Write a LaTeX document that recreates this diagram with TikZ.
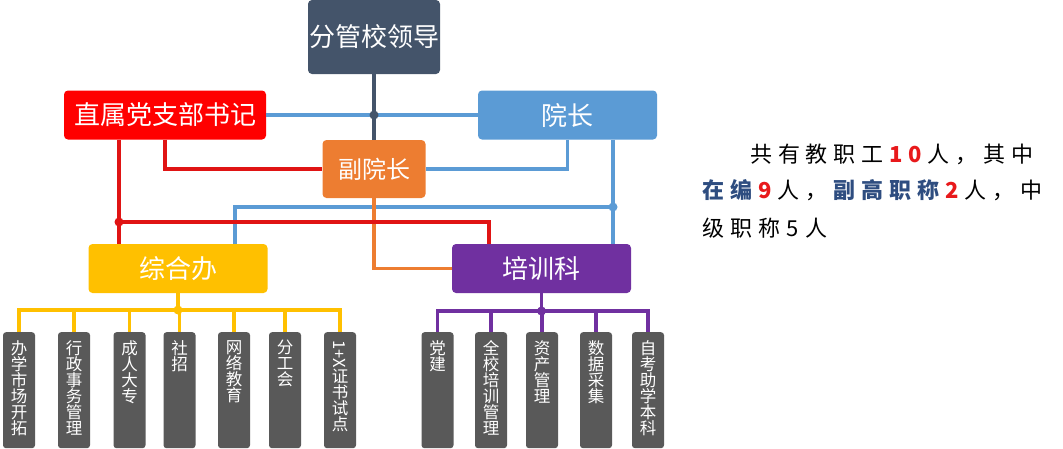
\documentclass[tikz,border=0pt]{standalone}
\usepackage{fontspec}
\setmainfont{Noto Sans CJK SC}
\usepackage{tikz}

\definecolor{slate}{HTML}{44546A}
\definecolor{partyred}{HTML}{FF0000}
\definecolor{linered}{HTML}{E01414}
\definecolor{deanblue}{HTML}{5B9BD5}
\definecolor{viceorange}{HTML}{ED7D31}
\definecolor{officegold}{HTML}{FFC000}
\definecolor{trainpurple}{HTML}{7030A0}
\definecolor{leafgray}{HTML}{595959}
\definecolor{notenavy}{HTML}{2E4D80}
\definecolor{notered}{HTML}{E8191B}

\newcommand{\vstack}[1]{\parbox[c][100pt][t]{18pt}{\centering #1}}
\newcommand{\hl}[1]{\textcolor{notenavy}{\textbf{#1}}}
\newcommand{\num}[1]{\textcolor{notered}{\textbf{#1}}}

\begin{document}
\begin{tikzpicture}[x=1pt,y=-1pt,
    unit/.style={rectangle,rounded corners=4pt,text=white,inner sep=0pt,font=\fontsize{26}{30}\selectfont},
    leaf/.style={rectangle,rounded corners=3pt,fill=leafgray,text=white,anchor=north,minimum width=32pt,inner xsep=0pt,inner ysep=8pt,font=\fontsize{16.5}{16}\selectfont},
    wire/.style={line width=3.3pt},
    note/.style={anchor=west,inner sep=0pt,font=\fontsize{22}{26}\selectfont}]
    \useasboundingbox (0,0) rectangle (1063,448);

    \node[unit,fill=slate,minimum width=132pt,minimum height=74pt] (lead) at (374,37) {分管校领导};
    \node[unit,fill=partyred,minimum width=202pt,minimum height=49pt] (dang) at (165,115) {直属党支部书记};
    \node[unit,fill=deanblue,minimum width=179pt,minimum height=49pt] (dean) at (567.5,115) {院长};
    \node[unit,fill=viceorange,minimum width=103pt,minimum height=58pt,font=\fontsize{24}{28}\selectfont] (vice) at (374,169) {副院长};
    \node[unit,fill=officegold,minimum width=179pt,minimum height=49pt] (office) at (178,268.5) {综合办};
    \node[unit,fill=trainpurple,minimum width=179pt,minimum height=49pt] (train) at (541.5,268.5) {培训科};

    \node[leaf] (o1) at (19,332) {\vstack{办\\学\\市\\场\\开\\拓}};
    \node[leaf] (o2) at (74,332) {\vstack{行\\政\\事\\务\\管\\理}};
    \node[leaf] (o3) at (129.5,332) {\vstack{成\\人\\大\\专}};
    \node[leaf] (o4) at (179.5,332) {\vstack{社\\招}};
    \node[leaf] (o5) at (234,332) {\vstack{网\\络\\教\\育}};
    \node[leaf] (o6) at (285,332) {\vstack{分\\工\\会}};
    \node[leaf] (o7) at (340,332) {\vstack{\rotatebox{-90}{1+X}\\证\\书\\试\\点}};

    \node[leaf] (t1) at (437.5,332) {\vstack{党\\建}};
    \node[leaf] (t2) at (491,332) {\vstack{全\\校\\培\\训\\管\\理}};
    \node[leaf] (t3) at (542,332) {\vstack{资\\产\\管\\理}};
    \node[leaf] (t4) at (596,332) {\vstack{数\\据\\采\\集}};
    \node[leaf] (t5) at (648,332) {\vstack{自\\考\\助\\学\\本\\科}};

    \coordinate (hub) at (374,115);
    \coordinate (rj) at (119,222);
    \coordinate (bj) at (613,207);
    \coordinate (oj) at (office.south |- 0,310);
    \coordinate (tj) at (train.south |- 0,311);

    \draw[wire,deanblue] (dang.east) -- (hub) -- (dean.west);
    \draw[wire,slate] (lead.south) -- (hub) -- (vice.north);
    \draw[wire,linered] (dang.south) |- (vice.west);
    \draw[wire,deanblue] (dean.south) |- (vice.east);

    \draw[wire,deanblue] (bj |- dean.south) -- (bj |- train.north);
    \draw[wire,deanblue] (bj) -| ([xshift=57pt]office.north);
    \draw[wire,viceorange] (vice.south) |- (train.west);
    \draw[wire,linered] (rj |- dang.south) -- (rj |- office.north);
    \draw[wire,linered] (rj) -| ([xshift=-52.5pt]train.north);

    \draw[wire,officegold] (office.south) -- (oj);
    \foreach \i in {1,...,7}
        \draw[wire,officegold] (oj) -| (o\i.north);
    \draw[wire,trainpurple] (train.south) -- (tj);
    \foreach \i in {1,...,5}
        \draw[wire,trainpurple] (tj) -| (t\i.north);

    \fill[slate] (hub) circle (4.5pt);
    \fill[linered] (rj) circle (4.5pt);
    \fill[deanblue] (bj) circle (4.5pt);
    \fill[officegold] (oj) circle (4.5pt);
    \fill[trainpurple] (tj) circle (4.5pt);

    \node[note] (n1) at (750,154) {\makebox[283pt]{共\hfill 有\hfill 教\hfill 职\hfill 工\hfill\num{1}\hfill\num{0}\hfill 人\hfill ，\hfill 其\hfill 中}};
    \node[note] (n2) at (702,190) {\makebox[340pt]{\hl{在}\hfill\hl{编}\hfill\num{9}\hfill 人\hfill ，\hfill\hl{副}\hfill\hl{高}\hfill\hl{职}\hfill\hl{称}\hfill\num{2}\hfill 人\hfill ，\hfill 中}};
    \node[note] (n3) at (702,228) {\makebox[125pt]{级\hfill 职\hfill 称\hfill 5\hfill 人}};
\end{tikzpicture}
\end{document}
